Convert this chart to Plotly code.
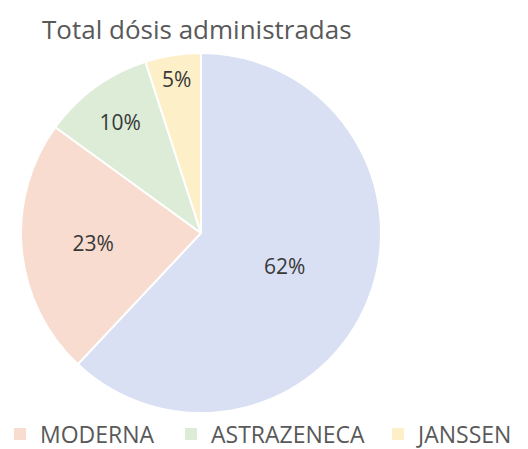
import plotly.graph_objects as go

labels = ["PFIZER", "MODERNA", "ASTRAZENECA", "JANSSEN"]
values = [62, 23, 10, 5]
colors = ["#dae0f4", "#f8dccf", "#dcecd6", "#fdf0c9"]
legend_labels = ["MODERNA", "ASTRAZENECA", "JANSSEN"]
legend_colors = ["#f8dccf", "#dcecd6", "#fdf0c9"]

FONT = "Open Sans"
W, H = 528, 449

fig = go.Figure()
fig.add_trace(go.Pie(
    labels=labels, values=values, sort=False, direction="clockwise", rotation=0,
    marker=dict(colors=colors, line=dict(color="white", width=2)),
    textinfo="percent", texttemplate="%{percent:.0%}", textposition="inside",
    insidetextorientation="horizontal",
    textfont=dict(family=FONT, size=21, color="#383838"),
    showlegend=False, hoverinfo="label+percent",
))
legend_x_px = [-2, 171, 378]
legend_names = ["legend", "legend2", "legend3"]
for lab, col, lg in zip(legend_labels, legend_colors, legend_names):
    fig.add_trace(go.Scatter(x=[None], y=[None], mode="markers", name=lab, legend=lg,
                             marker=dict(symbol="square", size=12, color=col)))

def leg(xpx):
    return dict(orientation="h", xref="container", yref="container",
                x=xpx / W, xanchor="left", y=(H - 434) / H, yanchor="middle",
                font=dict(family=FONT, size=23, color="#595959"),
                itemsizing="constant", bgcolor="rgba(0,0,0,0)")

fig.update_layout(
    width=W, height=H,
    margin=dict(l=21, r=147, t=53, b=36, autoexpand=False),
    paper_bgcolor="white", plot_bgcolor="white",
    title=dict(text="Total dósis administradas", x=42 / W, xanchor="left",
               y=1 - 30 / H, yanchor="middle",
               font=dict(family=FONT, size=26, color="#595959")),
    xaxis=dict(visible=False), yaxis=dict(visible=False),
    uniformtext=dict(minsize=21, mode="show"),
    legend=leg(legend_x_px[0]), legend2=leg(legend_x_px[1]), legend3=leg(legend_x_px[2]),
)
fig.write_html("out.html", config={"displayModeBar": False},
               post_script="document.body.style.margin='0';document.body.style.overflow='hidden';")
